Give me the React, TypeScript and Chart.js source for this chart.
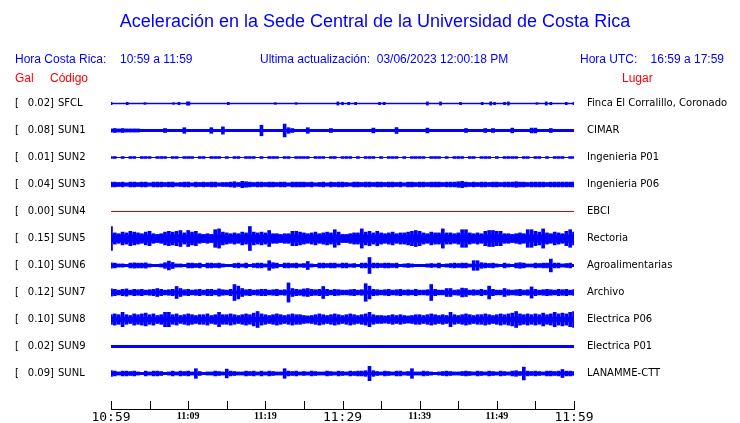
import React, { useEffect, useRef } from "react";
import { Chart, registerables } from "chart.js";
Chart.register(...registerables);

const titleText = "Aceleración en la Sede Central de la Universidad de Costa Rica";
const headerLocal = "Hora Costa Rica:";
const headerLocalRange = "10:59 a 11:59";
const headerUpdate = "Ultima actualización:  03/06/2023 12:00:18 PM";
const headerUtc = "Hora UTC:";
const headerUtcRange = "16:59 a 17:59";

const stations = ["SFCL", "SUN1", "SUN2", "SUN3", "SUN4", "SUN5", "SUN6", "SUN7", "SUN8", "SUN9", "SUNL"];
const places = [
  "Finca El Corralillo, Coronado", "CIMAR", "Ingenieria P01", "Ingenieria P06", "EBCI", "Rectoria",
  "Agroalimentarias", "Archivo", "Electrica P06", "Electrica P01", "LANAMME-CTT",
];
const peakGal = ["0.02", "0.08", "0.01", "0.04", "0.00", "0.15", "0.10", "0.12", "0.10", "0.02", "0.09"];
const traceColors = ["#0000ff", "#0000ff", "#0000ff", "#0000ff", "#e00000", "#0000ff", "#0000ff", "#0000ff", "#0000ff", "#0000ff", "#0000ff"];

// continuous background noise half-amplitude (hundredths of Gal)
const baseAmp = [0.8, 1.9, 0, 2.1, 0, 5, 1.9, 2.5, 3.4, 1.9, 1.9];

// x axis: minutes after 10:59
const timeTicks = [0, 5, 10, 15, 20, 25, 30, 35, 40, 45, 50, 55, 60];
const tickLabels = ["10:59", "11:09", "11:19", "11:29", "11:39", "11:49", "11:59"];

// envelope half-amplitudes every 0.5 min (hundredths of Gal)
const sun1Env = [
  2, 2.5, 2, 2.5, 2, 2, 2, 2, 1.5, 1.5,
  1.5, 1.5, 1.5, 1.5, 2.5, 1.5, 1.5, 1.5, 1.5, 3.5,
  1.5, 1.5, 1.5, 1.5, 1.5, 1.5, 3.5, 1.5, 1.5, 4.5,
  1.5, 1.5, 1.5, 1.5, 1.5, 1.5, 1.5, 1.5, 1.5, 6.6,
  1.5, 1.5, 1.5, 1.5, 1.5, 8, 3.5, 2.5, 1.5, 1.5,
  1.5, 3.5, 1.5, 1.5, 1.5, 1.5, 1.5, 2.5, 1.5, 1.5,
  1.5, 1.5, 1.5, 1.5, 1.5, 1.5, 1.5, 1.5, 3, 1.5,
  1.5, 1.5, 1.5, 1.5, 3.7, 1.5, 1.5, 1.5, 1.5, 1.5,
  1.5, 1.5, 3, 1.5, 1.5, 1.5, 1.5, 1.5, 1.5, 1.5,
  1.5, 1.5, 2.5, 1.5, 1.5, 1.5, 1.5, 2.5, 1.5, 2.5,
  1.5, 1.5, 1.5, 1.5, 3, 1.5, 1.5, 1.5, 1.5, 3,
  3, 1.5, 1.5, 1.5, 2.5, 1.5, 1.5, 1.5, 1.5, 1.5,
  1.5,
];
const sun2Env = [
  1.2, 1.2, 0, 1.2, 0, 1.2, 1.2, 0, 1.2, 1.2,
  1.2, 0, 1.2, 1.2, 1.2, 0, 1.2, 1.2, 0, 1.2,
  1.2, 1.2, 0, 1.2, 1.2, 0, 1.2, 1.2, 1.2, 0,
  1.2, 0, 1.2, 1.2, 0, 1.2, 1.2, 1.2, 0, 1.2,
  0, 1.2, 1.2, 1.2, 0, 1.2, 1.2, 0, 1.2, 1.2,
  1.2, 1.2, 0, 1.2, 1.2, 1.2, 0, 1.2, 1.2, 0,
  1.2, 1.2, 1.2, 0, 1.2, 0, 1.2, 1.2, 1.2, 0,
  1.2, 0, 1.2, 1.2, 1.2, 0, 1.2, 0, 1.2, 1.2,
  1.2, 1.2, 0, 1.2, 1.2, 1.2, 0, 1.2, 0, 1.2,
  1.2, 1.2, 0, 1.2, 1.2, 0, 1.2, 1.2, 1.2, 0,
  1.2, 0, 1.2, 1.2, 1.2, 1.2, 0, 1.2, 1.2, 0,
  1.2, 1.2, 0, 1.2, 0, 1.2, 1.2, 1.2, 0, 1.2,
  1.2,
];
const sun3Env = [
  3, 3, 2.5, 3, 2, 3, 3, 2.5, 3, 3,
  2, 3, 3, 3, 2.5, 3, 3, 2, 2.5, 3,
  3, 2, 3, 2.5, 3, 2.5, 3, 3, 2, 2.5,
  2.5, 3, 3.5, 2.5, 4, 3.5, 3, 2.5, 3, 3,
  2.5, 3, 3, 2.5, 3, 3, 2, 3, 3, 3,
  3, 2.5, 3, 2, 2.5, 3, 2, 3, 2.5, 3,
  3, 2.5, 2, 3, 3, 2.5, 3, 3, 2.5, 3,
  3, 2.5, 3, 3, 2.5, 3, 2, 3, 3, 2.5,
  3, 3, 2.5, 3, 3, 3, 2.5, 3, 3, 3,
  3.5, 4, 3, 2.5, 3, 2.5, 3, 3, 2.5, 3,
  3, 2.5, 3, 3, 3, 3.5, 3, 3, 2.5, 3,
  3, 3, 3, 2.5, 3, 3, 3, 3, 3, 3,
  3,
];
const sun5Env = [
  15, 7, 6, 8, 7, 9, 8, 7, 6, 8,
  9, 6, 5, 6, 8, 9, 8, 9, 10, 7,
  10, 8, 9, 6, 5, 6, 5, 11, 12, 8,
  7, 6, 7, 6, 8, 7, 15, 8, 7, 8,
  7, 10, 6, 6, 5, 6, 6, 9, 9, 8,
  7, 6, 7, 8, 6, 7, 8, 7, 11, 8,
  5, 5, 6, 7, 7, 12, 8, 9, 7, 9,
  7, 6, 7, 8, 6, 7, 7, 8, 9, 10,
  9, 7, 6, 8, 7, 7, 12, 7, 7, 6,
  7, 11, 11, 7, 6, 7, 6, 9, 10, 10,
  9, 9, 6, 6, 5, 6, 7, 6, 11, 11,
  9, 8, 12, 7, 6, 8, 7, 6, 9, 11,
  8,
];
const sun6Env = [
  3.3, 3, 2, 2, 1.5, 3, 3.3, 3, 3, 3.3,
  2, 1.5, 1.5, 2, 3.5, 5.5, 3.8, 2, 2, 1.5,
  3, 3, 2.5, 3, 1.5, 3, 3, 2.5, 3, 2,
  1.5, 1.5, 2.5, 3, 2, 3, 1.5, 2.5, 3, 3,
  2, 6, 3.5, 3, 1.5, 3, 3, 2.5, 3, 2,
  2.5, 5, 2, 1.5, 3, 3, 2.5, 3, 3, 2,
  3, 3, 2, 2.5, 1.5, 3, 3, 10, 3, 3,
  2.5, 3, 3, 2.5, 3, 1.5, 2, 2.5, 2, 1.5,
  1.5, 1.5, 2, 2.5, 2, 3, 1.5, 2, 2.5, 3,
  2.5, 3, 3, 2, 6, 6, 3.5, 3, 2.5, 3,
  2, 1.5, 3, 2, 1.5, 3, 3.5, 3, 2, 2,
  3, 2.5, 3, 3, 8, 3, 3, 2, 2.5, 3,
  1.5,
];
const sun7Env = [
  4.5, 4, 3, 4, 4.5, 3, 4, 3.5, 4, 3,
  3.5, 4, 5, 4, 3, 3.5, 4, 7.5, 5, 3.5,
  4, 3, 3.5, 4, 3, 4, 4, 3, 4.5, 3.5,
  3, 4, 10, 8, 5, 3.5, 4, 3, 3.5, 4,
  4, 3, 3.5, 4, 3, 3.5, 12, 5, 4, 3.5,
  4.5, 5, 4, 3.5, 4, 7.5, 4, 3, 4, 3.5,
  3, 3, 3.5, 4, 3, 3.5, 11, 8, 4, 3.5,
  3, 3.5, 4, 3, 3.5, 4, 3, 3.5, 3, 4,
  3, 3, 3.5, 10, 4, 3, 3, 5, 5, 3,
  3.5, 5.5, 5, 3, 3.5, 3, 4, 3, 8, 4,
  3, 3, 5, 3.5, 3, 3.5, 4, 3, 3.5, 7,
  4, 3, 3.5, 4, 3.5, 3, 4, 3.5, 4, 3,
  3.5,
];
const sun8Env = [
  6, 7, 6, 9, 6, 5, 7, 6, 7, 8,
  6, 7, 5, 6, 9, 9, 6, 7, 5, 6,
  7, 6, 5, 6, 6, 7, 5, 6, 9, 6,
  6, 7, 6, 5, 6, 7, 6, 8, 10, 7,
  6, 5, 6, 7, 6, 5, 6, 7, 6, 6,
  5, 4.5, 5, 6, 7, 6, 5, 6, 7, 6,
  5, 6, 7, 6, 5, 6, 7, 9, 6, 5,
  5, 4.5, 5, 6, 5, 6, 5, 4.5, 5, 6,
  6, 5, 6, 7, 6, 5, 6, 5, 9, 6,
  5, 6, 7, 6, 5, 6, 6, 7, 6, 5,
  6, 7, 6, 7, 8, 10, 7, 6, 7, 6,
  7, 6, 8, 6, 7, 9, 7, 8, 7, 9,
  10,
];
const sunlEnv = [
  3.5, 3, 2, 3, 3, 2.5, 3, 2, 1.5, 3,
  2, 3, 3, 2.5, 1.5, 2, 3, 2, 3, 2.5,
  3, 2, 6, 2.5, 1.5, 2, 2, 3, 2.5, 2,
  5.5, 3, 2.5, 2, 2, 3, 2.5, 3, 2, 3,
  2, 3, 2.5, 2, 2, 6, 3, 2.5, 3, 2,
  2.5, 2, 3, 2.5, 2, 2, 3, 2.5, 2, 3,
  2.5, 2, 3, 2.5, 3, 3, 3.5, 9, 3.5, 2.5,
  2, 3, 2.5, 2, 3, 3, 2, 2.5, 6, 2,
  2, 3, 2.5, 2, 1.5, 2, 2.5, 3, 2.5, 2,
  2, 2.5, 3, 2.5, 2, 3, 2.5, 2, 3, 2.5,
  2, 3, 2.5, 2, 3, 3.5, 2.5, 8, 3, 2.5,
  3, 2.5, 2, 3, 3, 2.5, 3, 5, 3, 3,
  2.5,
];
const envelopes = [null, sun1Env, sun2Env, sun3Env, null, sun5Env, sun6Env, sun7Env, sun8Env, null, sunlEnv];

// isolated spikes on SFCL: [minute, half-amplitude]
const sfclSpikeMin = [0, 2.1, 4.4, 8.1, 8.8, 9.9, 10.1, 15.2, 21.3, 24, 29.4, 30, 30.8, 31.7, 34.8, 35.4, 41, 42.7, 45.3, 48.1, 49.2, 49.7, 51, 51.5, 55.2, 56.4, 57, 59, 60];
const sfclSpikeAmp = [1.5, 1.5, 1, 1, 1.5, 2, 2, 1.5, 1, 1, 2, 1.5, 1.5, 1.5, 1.5, 1.5, 2, 2, 1.5, 1.5, 2, 1.5, 1.5, 2, 1, 2, 1.5, 1.5, 1.5];

const ROW_GAP = 33.75; // hundredths of Gal between trace baselines
const ENV_STEP = 0.5;

export default function App() {
  const ref = useRef<HTMLCanvasElement | null>(null);
  useEffect(() => {
    const canvas = ref.current;
    if (!canvas) return;
    const n = stations.length;
    const center = (i: number) => (n - 1 - i) * ROW_GAP;
    const datasets: any[] = [];
    stations.forEach((_, i) => {
      const c = center(i);
      const b = baseAmp[i];
      const col = traceColors[i];
      if (b > 0) {
        datasets.push({
          type: "line",
          data: [{ x: 0, y: c + b }, { x: 60, y: c + b }],
          borderWidth: 0,
          borderColor: "rgba(0,0,0,0)",
          backgroundColor: col,
          fill: { value: c - b },
          pointRadius: 0,
          order: 2,
        });
      } else {
        datasets.push({
          type: "line",
          data: [{ x: 0, y: c }, { x: 60, y: c }],
          borderWidth: 1,
          borderColor: col,
          fill: false,
          pointRadius: 0,
          order: 2,
        });
      }
      const env = envelopes[i];
      if (env) {
        datasets.push({
          type: "bar",
          data: env.map((a, k) => ({ x: k * ENV_STEP, y: [c - a, c + a] })),
          backgroundColor: col,
          barThickness: 3,
          grouped: false,
          order: 1,
        });
      }
      if (i === 0) {
        datasets.push({
          type: "bar",
          data: sfclSpikeMin.map((m, k) => ({ x: m, y: [c - sfclSpikeAmp[k], c + sfclSpikeAmp[k]] })),
          backgroundColor: col,
          barThickness: 2,
          grouped: false,
          order: 1,
        });
      }
    });

    const textPlugin = {
      id: "seismoTexts",
      afterDraw(chart: any) {
        const ctx = chart.ctx as CanvasRenderingContext2D;
        const xs = chart.scales.x;
        const ys = chart.scales.y;
        const area = chart.chartArea;
        ctx.save();
        // upward tick marks
        ctx.strokeStyle = "#000";
        ctx.lineWidth = 1;
        timeTicks.forEach((t) => {
          const px = Math.round(xs.getPixelForValue(t)) + 0.5;
          ctx.beginPath();
          ctx.moveTo(px, area.bottom);
          ctx.lineTo(px, area.bottom - 8);
          ctx.stroke();
        });
        // title
        ctx.fillStyle = "#0000ff";
        ctx.textBaseline = "middle";
        ctx.textAlign = "center";
        ctx.font = "18px 'Liberation Sans'";
        ctx.fillText(titleText, 375, 22);
        // header line
        ctx.font = "12px 'Liberation Sans'";
        ctx.textAlign = "left";
        ctx.fillText(headerLocal, 15, 60);
        ctx.fillText(headerLocalRange, 120, 60);
        ctx.fillText(headerUpdate, 260, 60);
        ctx.fillText(headerUtc, 580, 60);
        ctx.textAlign = "right";
        ctx.fillText(headerUtcRange, 724, 60);
        // column titles
        ctx.fillStyle = "#ff0000";
        ctx.textAlign = "left";
        ctx.fillText("Gal", 15, 79);
        ctx.fillText("Código", 50, 79);
        ctx.fillText("Lugar", 622, 79);
        // station rows
        ctx.fillStyle = "#000";
        ctx.font = "10px 'DejaVu Sans'";
        stations.forEach((s, i) => {
          const py = ys.getPixelForValue(center(i));
          ctx.textAlign = "left";
          ctx.fillText("[", 15, py);
          ctx.textAlign = "right";
          ctx.fillText(peakGal[i] + "]", 54, py);
          ctx.textAlign = "left";
          ctx.fillText(s, 58, py);
          ctx.fillText(places[i], 587, py);
        });
        ctx.restore();
      },
    };

    const chart = new Chart(canvas, {
      type: "bar",
      data: { datasets },
      options: {
        animation: false,
        responsive: false,
        devicePixelRatio: 1,
        events: [],
        layout: { padding: { left: 111, right: 166, top: 90, bottom: 0 } },
        plugins: { legend: { display: false }, tooltip: { enabled: false }, title: { display: false } },
        scales: {
          x: {
            type: "linear",
            min: 0,
            max: 60,
            offset: false,
            grid: { display: false, drawTicks: false },
            border: { display: true, color: "#000", width: 1 },
            afterFit: (scale: any) => {
              scale.height = 14;
            },
            afterBuildTicks: (scale: any) => {
              scale.ticks = timeTicks.map((v) => ({ value: v }));
            },
            ticks: {
              autoSkip: false,
              maxRotation: 0,
              padding: 1,
              color: "#000",
              callback: (v: any) => (Number(v) % 10 === 0 ? tickLabels[Number(v) / 10] : ""),
              font: (ctx: any) =>
                ctx.tick && ctx.tick.value % 30 === 0
                  ? { family: "'DejaVu Sans Mono'", size: 13 }
                  : { family: "'Liberation Serif'", size: 10, weight: "bold" },
            },
          },
          y: {
            type: "linear",
            display: false,
            min: -44.375,
            max: 354.375,
          },
        },
      } as any,
      plugins: [textPlugin],
    });
    return () => chart.destroy();
  }, []);

  return (
    <div style={{ position: "absolute", left: 0, top: 0, width: 740, height: 423, background: "#fff" }}>
      <canvas ref={ref} width={740} height={423} style={{ width: 740, height: 423, display: "block" }} />
    </div>
  );
}
